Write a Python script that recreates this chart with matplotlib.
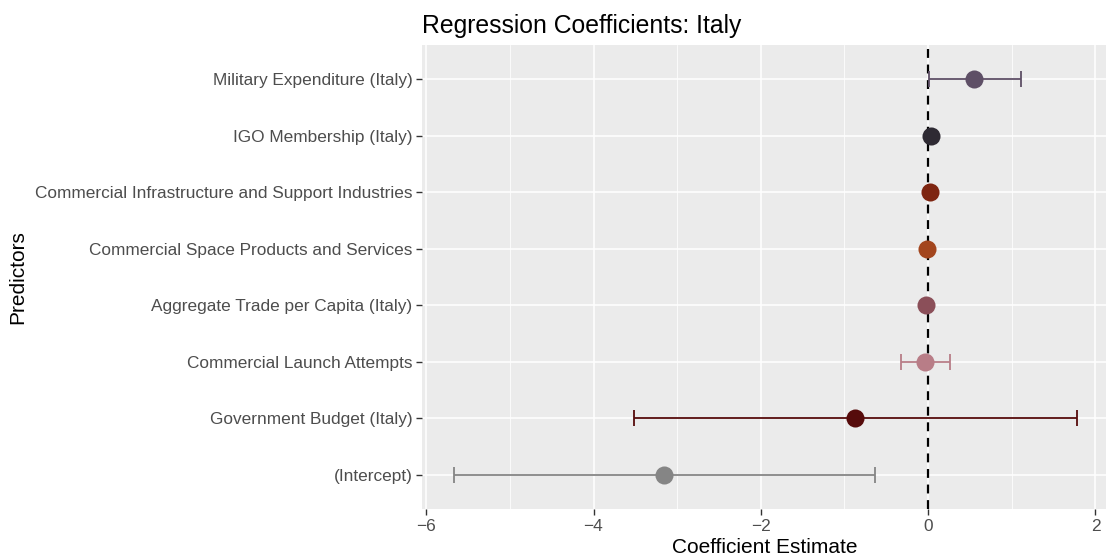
import matplotlib
matplotlib.use("Agg")
import matplotlib.pyplot as plt
from matplotlib.ticker import MultipleLocator

plt.rcParams['font.family'] = ['Liberation Sans', 'DejaVu Sans']

# Predictors listed from top to bottom of the chart
predictors = [
    "Military Expenditure (Italy)",
    "IGO Membership (Italy)",
    "Commercial Infrastructure and Support Industries",
    "Commercial Space Products and Services",
    "Aggregate Trade per Capita (Italy)",
    "Commercial Launch Attempts",
    "Government Budget (Italy)",
    "(Intercept)",
]
estimates = [0.55, 0.03, 0.02, -0.01, -0.02, -0.04, -0.87, -3.16]
ci_low = [0.01, 0.01, 0.00, -0.03, -0.04, -0.32, -3.51, -5.67]
ci_high = [1.11, 0.05, 0.04, 0.01, 0.00, 0.26, 1.78, -0.64]
colors = ["#5E4F66", "#2E2A33", "#7E2511", "#A3461E", "#8B4F59",
          "#B87D87", "#560B0B", "#858585"]
x_ticks = [-6, -4, -2, 0, 2]
x_tick_labels = ["\u22126", "\u22124", "\u22122", "0", "2"]

fig = plt.figure(figsize=(11.06, 5.60), dpi=100)
ax = fig.add_axes([422 / 1106, 1 - 509 / 560, (1108 - 422) / 1106, (509 - 45) / 560])

ax.set_facecolor("#EBEBEB")
for s in ax.spines.values():
    s.set_visible(False)

n = len(predictors)
ypos = list(range(n, 0, -1))

ax.set_xlim(-6.05, 2.15)
ax.set_ylim(0.4, n + 0.6)
ax.set_xticks(x_ticks)
ax.set_xticklabels(x_tick_labels)
ax.xaxis.set_minor_locator(MultipleLocator(1))
ax.set_yticks(ypos)
ax.set_yticklabels(predictors)

ax.grid(which="major", axis="both", color="white", linewidth=1.1)
ax.grid(which="minor", axis="x", color="white", linewidth=0.55)
ax.set_axisbelow(True)

ax.tick_params(axis="both", which="major", length=4, width=1.0, color="#333333",
               labelcolor="#4D4D4D", labelsize=12.4)
ax.tick_params(axis="x", which="major", pad=3)
ax.tick_params(axis="y", which="major", pad=3)
ax.tick_params(which="minor", length=0)

ax.axvline(0, color="black", linestyle=(0, (4, 3)), linewidth=1.6, zorder=2)

for y, est, lo, hi, c in zip(ypos, estimates, ci_low, ci_high, colors):
    ax.errorbar(est, y, xerr=[[est - lo], [hi - est]], fmt="none", ecolor=c,
                elinewidth=1.3, capsize=6, capthick=1.3, zorder=3)
    ax.plot(est, y, "o", color=c, markersize=13, markeredgewidth=0, zorder=4)

ax.set_xlabel("Coefficient Estimate", fontsize=15, color="black", labelpad=3)
ax.set_ylabel("Predictors", fontsize=15, color="black")
ax.yaxis.set_label_coords(-395 / (1108 - 422), 0.5)
ax.set_title("Regression Coefficients: Italy", fontsize=17.8, loc="left", pad=9)

fig.savefig("out.png", dpi=100)
